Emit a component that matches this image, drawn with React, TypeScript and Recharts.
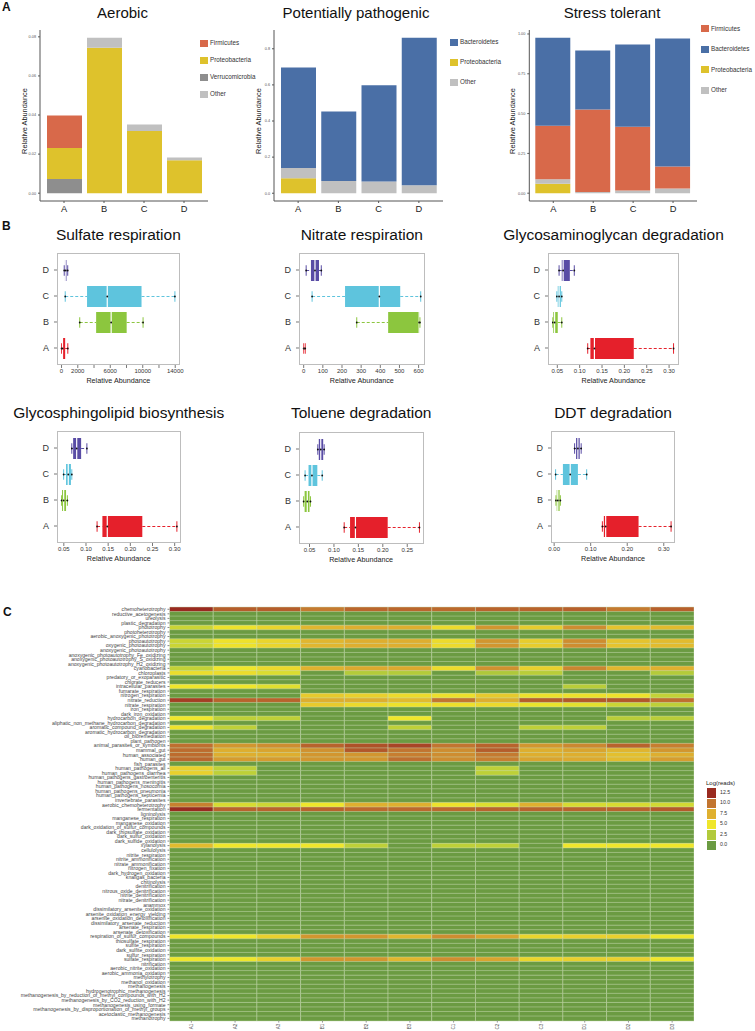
import React from "react";
import { BarChart, Bar, XAxis, YAxis, Cell } from "recharts";

const FONT = '"Liberation Sans", Arial, Helvetica, sans-serif';

// ---------- A: relative abundance of phyla ----------
const SITES = ["A", "B", "C", "D"];

const AEROBIC_FIRMICUTES = [0.0167, 0, 0, 0];
const AEROBIC_PROTEOBACTERIA = [0.0158, 0.0744, 0.0318, 0.0169];
const AEROBIC_VERRUCOMICROBIA = [0.0073, 0, 0, 0];
const AEROBIC_OTHER = [0, 0.0051, 0.0034, 0.0014];

const PATHO_BACTEROIDETES = [0.557, 0.384, 0.533, 0.817];
const PATHO_PROTEOBACTERIA = [0.0833, 0, 0, 0];
const PATHO_OTHER = [0.056, 0.068, 0.065, 0.044];

const STRESS_FIRMICUTES = [0.336, 0.517, 0.401, 0.139];
const STRESS_BACTEROIDETES = [0.552, 0.371, 0.516, 0.804];
const STRESS_PROTEOBACTERIA = [0.0588, 0, 0, 0];
const STRESS_OTHER = [0.029, 0.008, 0.017, 0.029];

const PHYLUM_COLORS: Record<string, string> = {
  Firmicutes: "#d8694a",
  Proteobacteria: "#dec22c",
  Verrucomicrobia: "#8e8e8e",
  Bacteroidetes: "#4a6fa6",
  Other: "#c0c0c0",
};

// ---------- B: box plots (min, q1, median, q3, max) for A, B, C, D ----------
const GROUP_ORDER = ["D", "C", "B", "A"];
const BOX_COLORS: Record<string, string> = {
  A: "#e5202b",
  B: "#8cc63e",
  C: "#5ec4dd",
  D: "#594ca5",
};

const SULFATE = [
  [0, 60, 120, 445, 770],
  [2240, 4260, 6110, 8020, 10040],
  [455, 3140, 5630, 9850, 13960],
  [330, 420, 520, 640, 760],
];
const NITRATE = [
  [0, 2, 4, 6, 8],
  [277, 441, 603, 605, 607],
  [44, 216, 395, 504, 611],
  [13, 38, 59, 80, 92],
];
const GLYCOSAMINOGLYCAN = [
  [0.118, 0.124, 0.133, 0.221, 0.31],
  [0.04, 0.041, 0.044, 0.051, 0.06],
  [0.049, 0.051, 0.054, 0.058, 0.06],
  [0.054, 0.06, 0.063, 0.078, 0.088],
];
const GLYCOSPHINGOLIPID = [
  [0.125, 0.137, 0.148, 0.227, 0.305],
  [0.045, 0.046, 0.0496, 0.055, 0.058],
  [0.0496, 0.055, 0.06, 0.066, 0.068],
  [0.068, 0.071, 0.079, 0.089, 0.102],
];
const TOLUENE = [
  [0.121, 0.133, 0.144, 0.21, 0.275],
  [0.038, 0.04, 0.0455, 0.05, 0.052],
  [0.041, 0.048, 0.055, 0.066, 0.076],
  [0.067, 0.069, 0.073, 0.078, 0.08],
];
const DDT = [
  [0.132, 0.136, 0.141, 0.231, 0.32],
  [0.005, 0.007, 0.01, 0.015, 0.017],
  [0.004, 0.024, 0.044, 0.065, 0.089],
  [0.056, 0.06, 0.065, 0.07, 0.074],
];

// ---------- C: heatmap of Log(reads) ----------
const SAMPLES = ["A1", "A2", "A3", "B1", "B2", "B3", "C1", "C2", "C3", "D1", "D2", "D3"];

const FUNCTIONS = [
  "chemoheterotrophy", "reductive_acetogenesis", "ureolysis", "plastic_degradation",
  "phototrophy", "photoheterotrophy", "aerobic_anoxygenic_phototrophy", "photoautotrophy",
  "oxygenic_photoautotrophy", "anoxygenic_photoautotrophy", "anoxygenic_photoautotrophy_Fe_oxidizing",
  "anoxygenic_photoautotrophy_S_oxidizing", "anoxygenic_photoautotrophy_H2_oxidizing", "cyanobacteria",
  "chloroplasts", "predatory_or_exoparasitic", "chlorate_reducers", "intracellular_parasites",
  "fumarate_respiration", "nitrogen_respiration", "nitrate_reduction", "nitrate_respiration",
  "iron_respiration", "dark_iron_oxidation", "hydrocarbon_degradation",
  "aliphatic_non_methane_hydrocarbon_degradation", "aromatic_compound_degradation",
  "aromatic_hydrocarbon_degradation", "oil_bioremediation", "plant_pathogen",
  "animal_parasites_or_symbionts", "mammal_gut", "human_associated", "human_gut", "fish_parasites",
  "human_pathogens_all", "human_pathogens_diarrhea", "human_pathogens_gastroenteritis",
  "human_pathogens_meningitis", "human_pathogens_nosocomia", "human_pathogens_pneumonia",
  "human_pathogens_septicemia", "invertebrate_parasites", "aerobic_chemoheterotrophy", "fermentation",
  "ligninolysis", "manganese_respiration", "manganese_oxidation", "dark_oxidation_of_sulfur_compounds",
  "dark_thiosulfate_oxidation", "dark_sulfur_oxidation", "dark_sulfide_oxidation", "xylanolysis",
  "cellulolysis", "nitrite_respiration", "nitrite_ammonification", "nitrate_ammonification",
  "nitrogen_fixation", "dark_hydrogen_oxidation", "knallgas_bacteria", "chitinolysis", "denitrification",
  "nitrous_oxide_denitrification", "nitrite_denitrification", "nitrate_denitrification", "anammox",
  "dissimilatory_arsenite_oxidation", "arsenite_oxidation_energy_yielding",
  "arsenite_oxidation_detoxification", "dissimilatory_arsenate_reduction", "arsenate_respiration",
  "arsenate_detoxification", "respiration_of_sulfur_compounds", "thiosulfate_respiration",
  "sulfite_respiration", "dark_sulfite_oxidation", "sulfur_respiration", "sulfate_respiration",
  "nitrification", "aerobic_nitrite_oxidation", "aerobic_ammonia_oxidation", "methylotrophy",
  "methanol_oxidation", "methanogenesis", "hydrogenotrophic_methanogenesis",
  "methanogenesis_by_reduction_of_methyl_compounds_with_H2", "methanogenesis_by_CO2_reduction_with_H2",
  "methanogenesis_using_formate", "methanogenesis_by_disproportionation_of_methyl_groups",
  "acetoclastic_methanogenesis", "methanotrophy",
];

// one row per function, columns A1..D3
const LOG_READS = [
  [12.6, 10.8, 10.8, 9.8, 10.5, 10.5, 10.4, 10.6, 10.6, 10.7, 9.8, 10.7],
  [0, 0, 0, 0, 0, 0, 0, 0, 0, 0, 0, 0],
  [0, 0, 0, 0, 0, 0, 0, 0, 0, 0, 0, 0],
  [0, 0, 0, 0, 0, 0, 0, 0, 0, 0, 0, 0],
  [3.5, 5.2, 5.8, 7.2, 7.6, 7.6, 5.5, 8.6, 6.2, 9, 6.6, 7],
  [0, 0, 0, 0, 0, 0, 0, 0, 0, 0, 0, 0],
  [0, 0, 0, 0, 0, 0, 0, 0, 0, 0, 0, 0],
  [3.5, 5.2, 5.8, 7.2, 7.6, 7.6, 5.5, 8.6, 6.2, 9, 6.6, 7],
  [3.5, 5.2, 5.8, 7.2, 7.6, 7.6, 5.5, 8.6, 6.2, 9, 6.6, 7],
  [0, 0, 0, 0, 0, 0, 0, 0, 0, 0, 0, 0],
  [0, 0, 0, 0, 0, 0, 0, 0, 0, 0, 0, 0],
  [0, 0, 0, 0, 0, 0, 0, 0, 0, 0, 0, 0],
  [0, 0, 0, 0, 0, 0, 0, 0, 0, 0, 0, 0],
  [3.2, 5, 5.6, 7.4, 7.8, 7.8, 5.5, 8.8, 6, 9.3, 7.2, 7.5],
  [5.4, 5.4, 4.2, 0, 2.6, 2.6, 0, 2.4, 2.8, 0, 0, 2.6],
  [0, 0, 0, 0, 0, 0, 0, 0, 0, 0, 0, 0],
  [0, 0, 0, 0, 0, 0, 0, 0, 0, 0, 0, 0],
  [5, 5, 4.4, 0, 0, 0, 0, 0, 0, 2.8, 0, 0],
  [0, 0, 0, 0, 0, 0, 0, 0, 0, 0, 0, 0],
  [0, 0, 0, 6.3, 6, 5.5, 5.3, 6.3, 5.3, 5.3, 5.2, 3.2],
  [11.8, 10.6, 10.6, 7.6, 7.6, 7, 10, 7.6, 10.8, 11, 11, 10.2],
  [0, 0, 0, 6.3, 5.6, 5.2, 5.3, 5.6, 4.8, 4.5, 3.5, 3],
  [0, 0, 0, 0, 0, 0, 0, 0, 0, 0, 0, 0],
  [0, 0, 0, 0, 0, 0, 0, 0, 0, 0, 0, 0],
  [5, 3, 3, 0, 0, 5, 0, 0, 0, 0, 2.8, 2.8],
  [0, 0, 0, 0, 0, 0, 0, 0, 0, 0, 0, 0],
  [5.2, 3, 0, 0, 0, 3, 0, 0, 3, 3, 0, 0],
  [0, 0, 0, 0, 0, 0, 0, 0, 0, 0, 0, 0],
  [0, 0, 0, 0, 0, 0, 0, 0, 0, 0, 0, 0],
  [0, 0, 0, 0, 0, 0, 0, 0, 0, 0, 0, 0],
  [10.2, 8.6, 9, 10.6, 11.2, 11.6, 10, 10.6, 8.6, 9.2, 10.6, 9.6],
  [10.3, 7.6, 8, 8.8, 11, 10, 9, 10.8, 7.6, 8, 7.3, 8.6],
  [10.3, 7.6, 7.6, 8.6, 8.6, 9.6, 9, 9.8, 7.6, 7.6, 6.8, 7.6],
  [10.5, 8.4, 8.4, 8.6, 8.6, 10.2, 9, 9.6, 8, 7.8, 7, 8.3],
  [0, 0, 0, 0, 0, 0, 0, 0, 0, 0, 0, 0],
  [6, 3, 0, 0, 0, 0, 0, 3, 0, 0, 0, 0],
  [6, 3, 0, 0, 0, 0, 0, 3, 0, 0, 0, 0],
  [0, 0, 0, 0, 0, 0, 0, 0, 0, 0, 0, 0],
  [0, 0, 0, 0, 0, 0, 0, 0, 0, 0, 0, 0],
  [0, 0, 0, 0, 0, 0, 0, 0, 0, 0, 0, 0],
  [0, 0, 0, 0, 0, 0, 0, 0, 0, 0, 0, 0],
  [0, 0, 0, 0, 0, 0, 0, 0, 0, 0, 0, 0],
  [0, 0, 0, 0, 0, 0, 0, 0, 0, 0, 0, 0],
  [9.5, 4, 3.6, 5, 7.5, 7.5, 5.2, 4.3, 7.5, 4, 4, 3.8],
  [12.5, 10.6, 10.6, 10.6, 10.4, 10.4, 10.4, 10.6, 10.6, 10.6, 10.6, 10.9],
  [0, 0, 0, 0, 0, 0, 0, 0, 0, 0, 0, 0],
  [0, 0, 0, 0, 0, 0, 0, 0, 0, 0, 0, 0],
  [0, 0, 0, 0, 0, 0, 0, 0, 0, 0, 0, 0],
  [0, 0, 0, 0, 0, 0, 0, 0, 0, 0, 0, 0],
  [0, 0, 0, 0, 0, 0, 0, 0, 0, 0, 0, 0],
  [0, 0, 0, 0, 0, 0, 0, 0, 0, 0, 0, 0],
  [0, 0, 0, 0, 0, 0, 0, 0, 0, 0, 0, 0],
  [7, 5, 5, 5, 3, 0, 3, 3, 0, 5, 5, 5],
  [0, 0, 0, 0, 0, 0, 0, 0, 0, 0, 0, 0],
  [0, 0, 0, 0, 0, 0, 0, 0, 0, 0, 0, 0],
  [0, 0, 0, 0, 0, 0, 0, 0, 0, 0, 0, 0],
  [0, 0, 0, 0, 0, 0, 0, 0, 0, 0, 0, 0],
  [0, 0, 0, 0, 0, 0, 0, 0, 0, 0, 0, 0],
  [0, 0, 0, 0, 0, 0, 0, 0, 0, 0, 0, 0],
  [0, 0, 0, 0, 0, 0, 0, 0, 0, 0, 0, 0],
  [0, 0, 0, 0, 0, 0, 0, 0, 0, 0, 0, 0],
  [0, 0, 0, 0, 0, 0, 0, 0, 0, 0, 0, 0],
  [0, 0, 0, 0, 0, 0, 0, 0, 0, 0, 0, 0],
  [0, 0, 0, 0, 0, 0, 0, 0, 0, 0, 0, 0],
  [0, 0, 0, 0, 0, 0, 0, 0, 0, 0, 0, 0],
  [0, 0, 0, 0, 0, 0, 0, 0, 0, 0, 0, 0],
  [0, 0, 0, 0, 0, 0, 0, 0, 0, 0, 0, 0],
  [0, 0, 0, 0, 0, 0, 0, 0, 0, 0, 0, 0],
  [0, 0, 0, 0, 0, 0, 0, 0, 0, 0, 0, 0],
  [0, 0, 0, 0, 0, 0, 0, 0, 0, 0, 0, 0],
  [0, 0, 0, 0, 0, 0, 0, 0, 0, 0, 0, 0],
  [0, 0, 0, 0, 0, 0, 0, 0, 0, 0, 0, 0],
  [5, 5, 6, 8.6, 8.6, 7.2, 9, 8, 5.8, 6, 6, 5],
  [0, 0, 0, 0, 0, 0, 0, 0, 0, 0, 0, 0],
  [0, 0, 0, 0, 0, 0, 0, 0, 0, 0, 0, 0],
  [0, 0, 0, 0, 0, 0, 0, 0, 0, 0, 0, 0],
  [0, 0, 0, 0, 0, 0, 0, 0, 0, 0, 0, 0],
  [5, 5, 6, 8.6, 8.6, 7.2, 9, 8, 5.8, 6, 6, 5],
  [0, 0, 0, 0, 0, 0, 0, 0, 0, 0, 0, 0],
  [0, 0, 0, 0, 0, 0, 0, 0, 0, 0, 0, 0],
  [0, 0, 0, 0, 0, 0, 0, 0, 0, 0, 0, 0],
  [0, 0, 0, 0, 0, 0, 0, 0, 0, 0, 0, 0],
  [0, 0, 0, 0, 0, 0, 0, 0, 0, 0, 0, 0],
  [0, 0, 0, 0, 0, 0, 0, 0, 0, 0, 0, 0],
  [0, 0, 0, 0, 0, 0, 0, 0, 0, 0, 0, 0],
  [0, 0, 0, 0, 0, 0, 0, 0, 0, 0, 0, 0],
  [0, 0, 0, 0, 0, 0, 0, 0, 0, 0, 0, 0],
  [0, 0, 0, 0, 0, 0, 0, 0, 0, 0, 0, 0],
  [0, 0, 0, 0, 0, 0, 0, 0, 0, 0, 0, 0],
  [0, 0, 0, 0, 0, 0, 0, 0, 0, 0, 0, 0],
  [0, 0, 0, 0, 0, 0, 0, 0, 0, 0, 0, 0],
];

const LEGEND_VALUES = [12.5, 10, 7.5, 5, 2.5, 0];

const HEAT_STOPS: [number, string][] = [
  [0, "#6b9b42"],
  [2.5, "#b2ca3b"],
  [5, "#efe62b"],
  [7.5, "#dfb02f"],
  [10, "#c27530"],
  [12.5, "#992a20"],
];

function hexToRgb(h: string) {
  return [1, 3, 5].map((i) => parseInt(h.slice(i, i + 2), 16));
}

function heatColor(v: number) {
  const x = Math.max(0, Math.min(12.5, v));
  for (let k = 0; k < HEAT_STOPS.length - 1; k++) {
    const [a, ca] = HEAT_STOPS[k];
    const [b, cb] = HEAT_STOPS[k + 1];
    if (x <= b) {
      const t = (x - a) / (b - a);
      const A = hexToRgb(ca);
      const B = hexToRgb(cb);
      const c = A.map((p, i) => Math.round(p + (B[i] - p) * t));
      return `rgb(${c[0]},${c[1]},${c[2]})`;
    }
  }
  return HEAT_STOPS[HEAT_STOPS.length - 1][1];
}

function Txt({ x, y, size, children, anchor = "middle", rotate, bold, color = "#111" }: any) {
  const tx = anchor === "middle" ? "-50%" : anchor === "end" ? "-100%" : "0";
  return (
    <div
      style={{
        position: "absolute",
        left: x,
        top: y,
        transform: `translate(${tx}, -50%)${rotate ? ` rotate(${rotate}deg)` : ""}`,
        fontSize: size,
        fontFamily: FONT,
        whiteSpace: "nowrap",
        lineHeight: 1,
        color,
        fontWeight: bold ? 700 : 400,
      }}
    >
      {children}
    </div>
  );
}

function StackPanel({ left, width, axisX, plotRight, title, titleX, series, legend, legendX, legendTop, legendStep, domain, ticks, digits, yLabelX }: any) {
  const data = SITES.map((site, i) => {
    const row: any = { site };
    series.forEach((s: any) => (row[s.name] = s.values[i]));
    return row;
  });
  return (
    <>
      <div style={{ position: "absolute", left, top: 0, width, height: 215 }}>
        <BarChart
          width={width}
          height={215}
          data={data}
          margin={{ top: 30, right: left + width - plotRight, bottom: 0, left: 0 }}
        >
          <XAxis
            dataKey="site"
            height={14}
            padding={{ left: 4, right: 4 }}
            tick={{ fontSize: 9.3, fill: "#222", fontFamily: FONT }}
            tickLine={{ stroke: "#555" }}
            tickSize={2}
            axisLine={{ stroke: "#555" }}
          />
          <YAxis
            width={axisX - left}
            domain={domain}
            ticks={ticks}
            allowDataOverflow
            interval={0}
            tickFormatter={(v: number) => v.toFixed(digits)}
            tick={{ fontSize: 3.8, fill: "#555", fontFamily: FONT }}
            tickSize={2}
            tickLine={{ stroke: "#555" }}
            axisLine={{ stroke: "#555" }}
          />
          {series.map((s: any) => (
            <Bar
              key={s.name}
              dataKey={s.name}
              stackId="a"
              fill={PHYLUM_COLORS[s.name]}
              barSize={35}
              isAnimationActive={false}
            />
          ))}
        </BarChart>
      </div>
      <Txt x={titleX} y={12} size={15}>{title}</Txt>
      <Txt x={yLabelX} y={121} size={7.4} rotate={-90} color="#222">Relative Abundance</Txt>
      {legend.map((name: string, i: number) => (
        <React.Fragment key={name}>
          <div
            style={{
              position: "absolute",
              left: legendX,
              top: legendTop + i * legendStep - 3.5,
              width: 8.3,
              height: 7,
              background: PHYLUM_COLORS[name],
            }}
          />
          <Txt x={legendX + 10} y={legendTop + i * legendStep} size={6.3} anchor="start" color="#333">
            {name}
          </Txt>
        </React.Fragment>
      ))}
    </>
  );
}

function whisker(side: "lo" | "hi") {
  return (p: any) => {
    const { x, y, width, height, payload } = p;
    const cy = y + height / 2;
    const color = BOX_COLORS[payload.g];
    const endX = side === "lo" ? x : x + width;
    return (
      <g>
        <line x1={x} x2={x + width} y1={cy} y2={cy} stroke={color} strokeWidth={1} strokeDasharray="3 2" />
        <line x1={endX} x2={endX} y1={cy - height / 4} y2={cy + height / 4} stroke={color} strokeWidth={1} />
        <circle cx={endX} cy={cy} r={0.9} fill="#111" />
      </g>
    );
  };
}

function boxShape(p: any) {
  const { x, y, width, height, payload } = p;
  const [, q1, md, q3] = payload.s;
  const color = BOX_COLORS[payload.g];
  const mx = x + (width * (md - q1)) / (q3 - q1);
  return (
    <g>
      <rect x={x} y={y} width={width} height={height} fill={color} />
      <line x1={mx} x2={mx} y1={y} y2={y + height} stroke="#ffffff" strokeWidth={1.2} />
      <circle cx={mx} cy={y + height / 2} r={0.9} fill="#111" />
    </g>
  );
}

function BoxPanel({ title, stats, domain, ticks, labelled, digits, left, top, w, h, titleY }: any) {
  const data = GROUP_ORDER.map((g) => {
    const s = stats[SITES.indexOf(g)];
    return { g, s, base: s[0], lo: s[1] - s[0], box: s[3] - s[1], hi: s[4] - s[3] };
  });
  const yw = 24;
  const xh = 14;
  const pr = 14;
  return (
    <>
      <Txt x={left + w / 2} y={titleY} size={15.5}>{title}</Txt>
      <div style={{ position: "absolute", left: left - yw, top, width: w + yw + pr, height: h + xh }}>
        <BarChart
          layout="vertical"
          width={w + yw + pr}
          height={h + xh}
          data={data}
          margin={{ top: 0, right: pr, bottom: 0, left: 0 }}
        >
          <XAxis
            type="number"
            domain={domain}
            allowDataOverflow
            ticks={ticks}
            interval={0}
            tickFormatter={(v: number) => (labelled.includes(v) ? v.toFixed(digits) : "")}
            height={xh}
            axisLine={false}
            tickSize={3}
            tickMargin={1}
            tickLine={{ stroke: "#777" }}
            tick={{ fontSize: 6, fill: "#333", fontFamily: FONT }}
          />
          <YAxis
            type="category"
            dataKey="g"
            width={yw}
            padding={{ top: 4, bottom: 4 }}
            axisLine={false}
            tickSize={3}
            tickMargin={5}
            tickLine={{ stroke: "#777" }}
            tick={{ fontSize: 9, fill: "#333", fontFamily: FONT }}
          />
          <Bar dataKey="base" stackId="b" barSize={21} shape={() => <g />} isAnimationActive={false} />
          <Bar dataKey="lo" stackId="b" barSize={21} shape={whisker("lo")} isAnimationActive={false} />
          <Bar dataKey="box" stackId="b" barSize={21} shape={boxShape} isAnimationActive={false} />
          <Bar dataKey="hi" stackId="b" barSize={21} shape={whisker("hi")} isAnimationActive={false} />
        </BarChart>
        <div
          style={{
            position: "absolute",
            left: yw,
            top: 0,
            width: w,
            height: h,
            border: "1px solid #bdbdbd",
            boxSizing: "border-box",
            pointerEvents: "none",
          }}
        />
      </div>
      <Txt x={left + w / 2} y={top + h + 16} size={7.2} color="#222">Relative Abundance</Txt>
    </>
  );
}

function SampleTick(p: any) {
  const { x, y, payload } = p;
  return (
    <text
      x={x}
      y={y}
      transform={`rotate(-90 ${x} ${y})`}
      textAnchor="end"
      dy="0.35em"
      fontSize={4.6}
      fill="#555"
      fontFamily={FONT}
    >
      {SAMPLES[Math.floor(payload.value)]}
    </text>
  );
}

function Heatmap() {
  const data = FUNCTIONS.map((name) => {
    const row: any = { name };
    SAMPLES.forEach((s) => (row[s] = 1));
    return row;
  });
  return (
    <div style={{ position: "absolute", left: 0, top: 600, width: 700, height: 431 }}>
      <BarChart
        layout="vertical"
        width={700}
        height={431}
        data={data}
        barCategoryGap={0}
        margin={{ top: 7, right: 6, bottom: 0, left: 0 }}
      >
        <XAxis
          type="number"
          domain={[0, SAMPLES.length]}
          allowDataOverflow
          ticks={SAMPLES.map((_, j) => j + 0.5)}
          interval={0}
          tick={<SampleTick />}
          height={10.4}
          axisLine={false}
          tickSize={2}
          tickMargin={1}
          tickLine={{ stroke: "#999" }}
        />
        <YAxis
          type="category"
          dataKey="name"
          width={169.5}
          interval={0}
          axisLine={false}
          tickSize={2}
          tickLine={{ stroke: "#888" }}
          tick={{ fontSize: 5.1, fill: "#444", fontFamily: FONT }}
        />
        {SAMPLES.map((s, j) => (
          <Bar key={s} dataKey={s} stackId="h" isAnimationActive={false}>
            {FUNCTIONS.map((f, i) => (
              <Cell key={f} fill={heatColor(LOG_READS[i][j])} stroke="#c9dcb3" strokeWidth={0.45} />
            ))}
          </Bar>
        ))}
      </BarChart>
    </div>
  );
}

export default function App() {
  return (
    <div
      style={{
        position: "absolute",
        left: 0,
        top: 0,
        width: 755,
        height: 1031,
        background: "#fff",
        overflow: "hidden",
        fontFamily: FONT,
      }}
    >
      <Txt x={2} y={7} size={12} bold anchor="start">A</Txt>
      <StackPanel
        left={0}
        width={250}
        axisX={40}
        plotRight={208}
        title="Aerobic"
        titleX={122.5}
        series={[
          { name: "Verrucomicrobia", values: AEROBIC_VERRUCOMICROBIA },
          { name: "Proteobacteria", values: AEROBIC_PROTEOBACTERIA },
          { name: "Firmicutes", values: AEROBIC_FIRMICUTES },
          { name: "Other", values: AEROBIC_OTHER },
        ]}
        legend={["Firmicutes", "Proteobacteria", "Verrucomicrobia", "Other"]}
        legendX={200}
        legendTop={43}
        legendStep={17}
        domain={[-0.004, 0.0835]}
        ticks={[0, 0.02, 0.04, 0.06, 0.08]}
        digits={2}
        yLabelX={25}
      />
      <StackPanel
        left={250}
        width={250}
        axisX={274}
        plotRight={443}
        title="Potentially pathogenic"
        titleX={356}
        series={[
          { name: "Proteobacteria", values: PATHO_PROTEOBACTERIA },
          { name: "Other", values: PATHO_OTHER },
          { name: "Bacteroidetes", values: PATHO_BACTEROIDETES },
        ]}
        legend={["Bacteroidetes", "Proteobacteria", "Other"]}
        legendX={450}
        legendTop={42}
        legendStep={20}
        domain={[-0.043, 0.904]}
        ticks={[0, 0.2, 0.4, 0.6, 0.8]}
        digits={1}
        yLabelX={259}
      />
      <StackPanel
        left={500}
        width={255}
        axisX={529.3}
        plotRight={697}
        title="Stress tolerant"
        titleX={612}
        series={[
          { name: "Proteobacteria", values: STRESS_PROTEOBACTERIA },
          { name: "Other", values: STRESS_OTHER },
          { name: "Firmicutes", values: STRESS_FIRMICUTES },
          { name: "Bacteroidetes", values: STRESS_BACTEROIDETES },
        ]}
        legend={["Firmicutes", "Bacteroidetes", "Proteobacteria", "Other"]}
        legendX={701}
        legendTop={28.5}
        legendStep={20.6}
        domain={[-0.049, 1.025]}
        ticks={[0, 0.25, 0.5, 0.75, 1]}
        digits={2}
        yLabelX={513}
      />

      <Txt x={2} y={226} size={12} bold anchor="start">B</Txt>
      <BoxPanel
        title="Sulfate respiration"
        stats={SULFATE}
        domain={[-560, 14550]}
        ticks={[0, 2000, 4000, 6000, 8000, 10000, 12000, 14000]}
        labelled={[0, 2000, 6000, 10000, 14000]}
        digits={0}
        left={57}
        top={253}
        w={122.7}
        h={112}
        titleY={235}
      />
      <BoxPanel
        title="Nitrate respiration"
        stats={NITRATE}
        domain={[-24.4, 635.4]}
        ticks={[0, 100, 200, 300, 400, 500, 600]}
        labelled={[0, 100, 200, 300, 400, 500, 600]}
        digits={0}
        left={298.6}
        top={253}
        w={126.4}
        h={112}
        titleY={235}
      />
      <BoxPanel
        title="Glycosaminoglycan degradation"
        stats={GLYCOSAMINOGLYCAN}
        domain={[0.0292, 0.3208]}
        ticks={[0.05, 0.1, 0.15, 0.2, 0.25, 0.3]}
        labelled={[0.05, 0.1, 0.15, 0.2, 0.25, 0.3]}
        digits={2}
        left={548.3}
        top={253}
        w={130.4}
        h={112}
        titleY={235}
      />
      <BoxPanel
        title="Glycosphingolipid biosynthesis"
        stats={GLYCOSPHINGOLIPID}
        domain={[0.0346, 0.3154]}
        ticks={[0.05, 0.1, 0.15, 0.2, 0.25, 0.3]}
        labelled={[0.05, 0.1, 0.15, 0.2, 0.25, 0.3]}
        digits={2}
        left={56.5}
        top={431}
        w={124.5}
        h={112}
        titleY={413}
      />
      <BoxPanel
        title="Toluene degradation"
        stats={TOLUENE}
        domain={[0.0285, 0.2845]}
        ticks={[0.05, 0.1, 0.15, 0.2, 0.25]}
        labelled={[0.05, 0.1, 0.15, 0.2, 0.25]}
        digits={2}
        left={298.6}
        top={432}
        w={125.1}
        h={112}
        titleY={413}
      />
      <BoxPanel
        title="DDT degradation"
        stats={DDT}
        domain={[-0.0086, 0.3326]}
        ticks={[0, 0.1, 0.2, 0.3]}
        labelled={[0, 0.1, 0.2, 0.3]}
        digits={2}
        left={550.7}
        top={431}
        w={124.7}
        h={112}
        titleY={413}
      />

      <Txt x={3} y={612} size={12} bold anchor="start">C</Txt>
      <Heatmap />
      <Txt x={706} y={783} size={6} anchor="start" color="#222">Log(reads)</Txt>
      {LEGEND_VALUES.map((v, i) => (
        <React.Fragment key={v}>
          <div
            style={{
              position: "absolute",
              left: 707,
              top: 788 + i * 10.5,
              width: 9,
              height: 9.5,
              background: heatColor(v),
            }}
          />
          <Txt x={720} y={788 + i * 10.5 + 4.75} size={5.2} anchor="start" color="#333">
            {v.toFixed(1)}
          </Txt>
        </React.Fragment>
      ))}
    </div>
  );
}
